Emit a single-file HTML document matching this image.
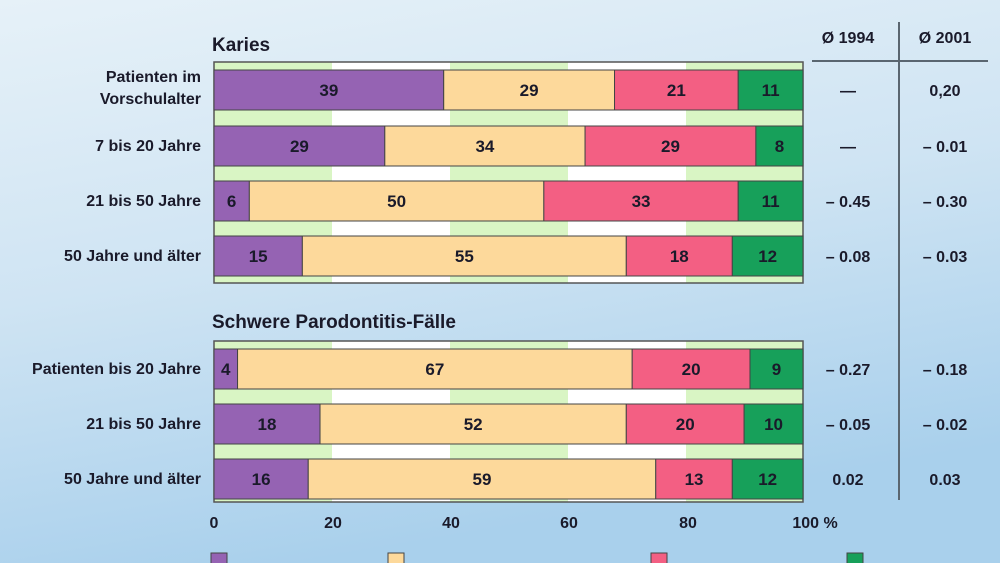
<!DOCTYPE html>
<html><head><meta charset="utf-8"><style>
html,body{margin:0;padding:0;width:1000px;height:563px;overflow:hidden}
svg{display:block}
text{font-family:"Liberation Sans",sans-serif;font-weight:bold;fill:#1a1a2a}
</style></head><body>
<svg width="1000" height="563" viewBox="0 0 1000 563" xmlns="http://www.w3.org/2000/svg">
<defs>
<linearGradient id="bg" x1="0" y1="0" x2="0.3" y2="1">
<stop offset="0" stop-color="#e6f1f8"/><stop offset="0.5" stop-color="#cfe4f3"/><stop offset="1" stop-color="#a9d0ec"/>
</linearGradient>
</defs>
<rect width="1000" height="563" fill="url(#bg)"/>
<g id="boxes">
<rect x="214" y="62" width="589" height="221" fill="#fff"/>
<rect x="214" y="62" width="118" height="221" fill="#d9f5c4"/>
<rect x="450" y="62" width="118" height="221" fill="#d9f5c4"/>
<rect x="686" y="62" width="117" height="221" fill="#d9f5c4"/>
<rect x="214" y="62" width="589" height="221" fill="none" stroke="#555" stroke-width="1.5"/>
<rect x="214" y="341" width="589" height="161" fill="#fff"/>
<rect x="214" y="341" width="118" height="161" fill="#d9f5c4"/>
<rect x="450" y="341" width="118" height="161" fill="#d9f5c4"/>
<rect x="686" y="341" width="117" height="161" fill="#d9f5c4"/>
<rect x="214" y="341" width="589" height="161" fill="none" stroke="#555" stroke-width="1.5"/>
</g>
<g id="bars" stroke="#444" stroke-width="1"></g>
<g font-size="17">
<text x="212" y="51" font-size="19">Karies</text>
<text x="212" y="328" font-size="19">Schwere Parodontitis-Fälle</text>
</g>
<g font-size="16" text-anchor="end">
<text x="201" y="82">Patienten im</text>
<text x="201" y="104">Vorschulalter</text>
<text x="201" y="151">7 bis 20 Jahre</text>
<text x="201" y="206">21 bis 50 Jahre</text>
<text x="201" y="261">50 Jahre und älter</text>
<text x="201" y="374">Patienten bis 20 Jahre</text>
<text x="201" y="429">21 bis 50 Jahre</text>
<text x="201" y="484">50 Jahre und älter</text>
</g>
<g font-size="16" text-anchor="middle">
<text x="848" y="43">Ø 1994</text>
<text x="945" y="43">Ø 2001</text>
<text x="848" y="96">—</text><text x="945" y="96">0,20</text>
<text x="848" y="152">—</text><text x="945" y="152">– 0.01</text>
<text x="848" y="207">– 0.45</text><text x="945" y="207">– 0.30</text>
<text x="848" y="262">– 0.08</text><text x="945" y="262">– 0.03</text>
<text x="848" y="375">– 0.27</text><text x="945" y="375">– 0.18</text>
<text x="848" y="430">– 0.05</text><text x="945" y="430">– 0.02</text>
<text x="848" y="485">0.02</text><text x="945" y="485">0.03</text>
</g>
<line x1="812" y1="61" x2="988" y2="61" stroke="#5a6670" stroke-width="2"/>
<line x1="899" y1="22" x2="899" y2="500" stroke="#5a6670" stroke-width="2"/>
<g font-size="16" text-anchor="middle">
<text x="214" y="528">0</text><text x="333" y="528">20</text><text x="451" y="528">40</text>
<text x="569" y="528">60</text><text x="688" y="528">80</text><text x="815" y="528">100 %</text>
</g>
<g>
<rect x="211" y="553" width="16" height="14" fill="#9563b3" stroke="#444"/>
<rect x="388" y="553" width="16" height="14" fill="#fdd99b" stroke="#444"/>
<rect x="651" y="553" width="16" height="14" fill="#f35f83" stroke="#444"/>
<rect x="847" y="553" width="16" height="14" fill="#17a05a" stroke="#444"/>
</g>
<script>
var rows=[[90,[39,29,21,11]],[146,[29,34,29,8]],[201,[6,50,33,11]],[256,[15,55,18,12]],
[369,[4,67,20,9]],[424,[18,52,20,10]],[479,[16,59,13,12]]];
var cols=["#9563b3","#fdd99b","#f35f83","#17a05a"];
var g=document.getElementById("bars"),ns="http://www.w3.org/2000/svg";
rows.forEach(function(r){var acc=0;r[1].forEach(function(v,i){
var x=214+acc*5.89,w=v*5.89;acc+=v;
var re=document.createElementNS(ns,"rect");re.setAttribute("x",x);re.setAttribute("y",r[0]-20);
re.setAttribute("width",w);re.setAttribute("height",40);re.setAttribute("fill",cols[i]);g.appendChild(re);
var t=document.createElementNS(ns,"text");t.setAttribute("x",x+w/2);t.setAttribute("y",r[0]+6);
t.setAttribute("text-anchor","middle");t.setAttribute("font-size","17");t.setAttribute("stroke","none");
t.textContent=v;g.appendChild(t);});});
</script>
</svg>
</body></html>
